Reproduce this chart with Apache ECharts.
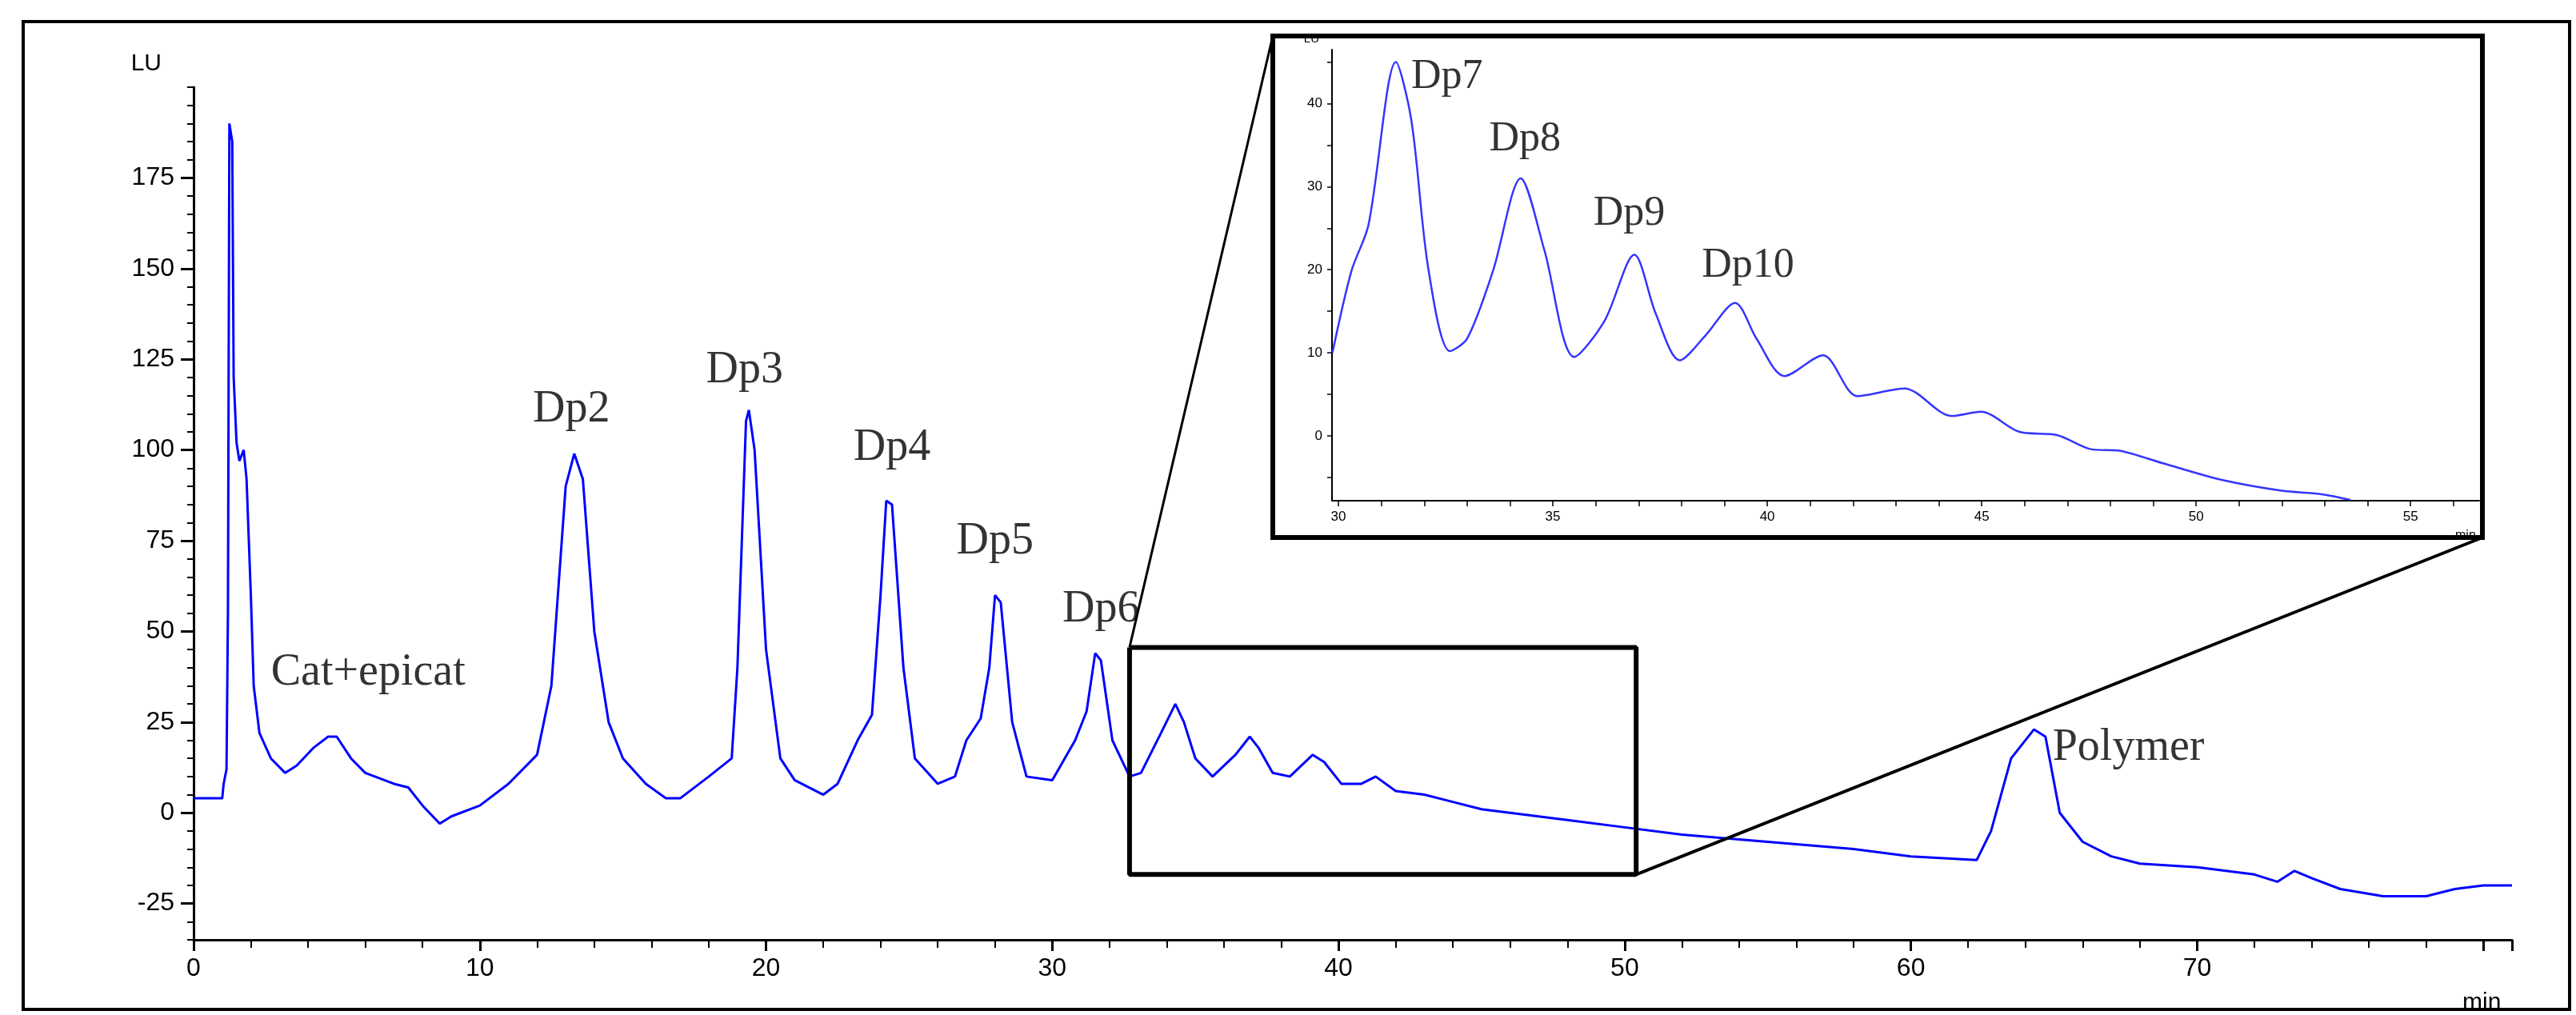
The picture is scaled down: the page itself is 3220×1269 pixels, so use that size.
<!DOCTYPE html>
<html>
<head>
<meta charset="utf-8">
<script src="https://cdn.jsdelivr.net/npm/echarts@6/dist/echarts.min.js"></script>
<style>html,body{margin:0;padding:0;background:#fff}#main{width:3220px;height:1269px}</style>
</head>
<body>
<div id="main"></div>
<script>
// 主色谱图数据 (min, LU)
var mainTime = [0,1.0,1.05,1.15,1.2,1.25,1.35,1.4,1.5,1.6,1.75,1.85,2.0,2.1,2.3,2.7,3.2,3.6,4.2,4.7,5.0,5.5,6.0,7.0,7.5,8.0,8.6,9.0,10,11,12,12.5,13.0,13.3,13.6,14.0,14.5,15,15.8,16.5,17.0,18,18.8,19.0,19.3,19.4,19.6,20,20.5,21,22,22.5,23.2,23.7,24.0,24.2,24.4,24.8,25.2,26,26.6,27.0,27.5,27.8,28.0,28.2,28.6,29.1,30,30.8,31.2,31.5,31.7,32.1,32.7,33.1,33.8,34.3,34.6,35.0,35.6,36.4,36.9,37.2,37.7,38.3,39.1,39.5,40.1,40.8,41.3,42.0,43,44,45,46,47,48,50,52,55,58,60,62.3,62.8,63.5,64.3,64.7,65.2,66,67,68,70,72,72.8,73.4,74,75,76.5,78,79,80,81];
var mainLU = [4,4,8,12,55,190,185,120,102,97,100,92,60,35,22,15,11,13,18,21,21,15,11,8,7,2,-3,-1,2,8,16,35,90,99,92,50,25,15,8,4,4,10,15,40,108,111,100,45,15,9,5,8,20,27,60,86,85,40,15,8,10,20,26,40,60,58,25,10,9,20,28,44,42,20,10,11,22,30,25,15,10,16,21,18,11,10,16,14,8,8,10,6,5,3,1,0,-1,-2,-4,-6,-8,-10,-12,-13,-5,15,23,21,0,-8,-12,-14,-15,-17,-19,-16,-18,-21,-23,-23,-21,-20,-20];

// 放大图数据
var insetTime = [29.86,30.3,30.7,31.34,31.7,32.1,32.6,33.0,33.6,34.25,34.8,35.5,36.2,36.9,37.4,37.96,38.56,39.25,39.75,40.4,41.3,42.1,43.2,44.3,44.98,45.87,46.76,47.55,48.24,49.23,50.6,52,52.9,53.6];
var insetLU = [10,19.8,25.4,45,38,20,10.2,11.7,19.8,31,22.4,9.5,13.8,21.8,14.7,9.1,12.1,16,11.7,7.2,9.7,4.8,5.7,2.4,2.9,0.5,0.1,-1.6,-1.8,-3.3,-5.3,-6.6,-7,-7.7];

// 峰标注
var mainLabels = ['Cat+epicat','Dp2','Dp3','Dp4','Dp5','Dp6','Polymer'];
var mainLabelX = [6.1,13.2,19.25,24.4,28.0,31.7,67.6];
var mainLabelY = [38.5,111,122,100.6,74.8,56,17.8];
var insetLabels = ['Dp7','Dp8','Dp9','Dp10'];
var insetLabelX = [32.53,34.35,36.78,39.55];
var insetLabelY = [43.2,35.7,26.7,20.5];

// 放大框范围
var boxX = [32.7,50.4,50.4,32.7,32.7];
var boxY = [45.6,45.6,-17,-17,45.6];

var mainXTicks = [0,10,20,30,40,50,60,70];
var mainYTicks = [-25,0,25,50,75,100,125,150,175];
var insetXTicks = [30,35,40,45,50,55];
var insetYTicks = [0,10,20,30,40];

function zip(a,b){ var r=[]; for(var i=0;i<a.length;i++) r.push([a[i],b[i]]); return r; }

var tickFont = {fontFamily:'Liberation Sans', color:'#000'};
var labelFont = {fontFamily:'Liberation Serif', color:'#000'};

var myChart = echarts.init(document.getElementById('main'));
var option = {
    animation:false,
    grid:[
        {left:242, top:109, right:80, bottom:86},
        {left:1665, top:62, right:121, bottom:643}
    ],
    xAxis:[
        {gridIndex:0, type:'value', min:0, max:81, interval:10,
         axisLine:{onZero:false, lineStyle:{color:'#000', width:3}},
         axisTick:{length:14, lineStyle:{color:'#000',width:3}},
         axisLabel:Object.assign({customValues:mainXTicks, fontSize:32, margin:20},tickFont),
         splitLine:{show:false},
         minorTick:{show:true, splitNumber:5, length:10, lineStyle:{color:'#000',width:2}},
         name:'min', nameLocation:'end', nameGap:-62,
         nameTextStyle:Object.assign({fontSize:30, padding:[64,0,0,0], verticalAlign:'top'},tickFont)},
        {gridIndex:1, type:'value', min:29.85, max:56.6,
         axisLine:{onZero:false, lineStyle:{color:'#000',width:2}},
         axisTick:{customValues:[30,31,32,33,34,35,36,37,38,39,40,41,42,43,44,45,46,47,48,49,50,51,52,53,54,55,56], length:7, lineStyle:{color:'#000',width:1.5}},
         axisLabel:Object.assign({customValues:insetXTicks, fontSize:17, margin:12},tickFont),
         splitLine:{show:false},
         name:'min', nameLocation:'end', nameGap:-30,
         nameTextStyle:Object.assign({fontSize:16, padding:[36,0,0,0], verticalAlign:'top'},tickFont)}
    ],
    yAxis:[
        {gridIndex:0, type:'value', position:'left', min:-35, max:200, interval:5,
         axisLine:{onZero:false, lineStyle:{color:'#000', width:3}},
         axisTick:{length:8, lineStyle:{color:'#000',width:2}},
         axisLabel:{show:false}, splitLine:{show:false}},
        {gridIndex:0, type:'value', position:'left', offset:0, min:-35, max:200,
         axisLine:{show:false, onZero:false},
         axisTick:{customValues:mainYTicks, length:16, lineStyle:{color:'#000',width:3}},
         axisLabel:Object.assign({customValues:mainYTicks, fontSize:32, margin:24},tickFont),
         splitLine:{show:false},
         name:'LU', nameLocation:'end', nameGap:14,
         nameTextStyle:Object.assign({fontSize:30, align:'right', padding:[0,40,0,0]},tickFont)},
        {gridIndex:1, type:'value', position:'left', min:-7.8, max:46.5,
         axisLine:{onZero:false, lineStyle:{color:'#000',width:2}},
         axisTick:{customValues:[-5,0,5,10,15,20,25,30,35,40,45], length:6, lineStyle:{color:'#000',width:1.5}},
         axisLabel:Object.assign({customValues:insetYTicks, fontSize:17, margin:12},tickFont),
         splitLine:{show:false},
         name:'LU', nameLocation:'end', nameGap:6,
         nameTextStyle:Object.assign({fontSize:15, align:'right', padding:[0,16,0,0]},tickFont)}
    ],
    series:[
        {type:'line', xAxisIndex:0, yAxisIndex:0, data:zip(mainTime,mainLU), showSymbol:false,
         lineStyle:{color:'#0000ff', width:3}, z:3},
        {type:'line', xAxisIndex:0, yAxisIndex:0, data:zip(boxX,boxY), showSymbol:false,
         lineStyle:{color:'#000', width:6}, z:4},
        {type:'line', xAxisIndex:1, yAxisIndex:2, data:zip(insetTime,insetLU), showSymbol:false, smooth:0.3,
         lineStyle:{color:'#3535ff', width:2.5}, z:3},
        {type:'scatter', xAxisIndex:0, yAxisIndex:0, symbolSize:0,
         data:mainLabels.map(function(n,i){return {value:[mainLabelX[i],mainLabelY[i]], name:n};}),
         label:Object.assign({show:true, position:'inside', formatter:'{b}', fontSize:56},labelFont)},
        {type:'scatter', xAxisIndex:1, yAxisIndex:2, symbolSize:0,
         data:insetLabels.map(function(n,i){return {value:[insetLabelX[i],insetLabelY[i]], name:n};}),
         label:Object.assign({show:true, position:'inside', formatter:'{b}', fontSize:52},labelFont)}
    ]
};
myChart.setOption(option);

// 放大框与插图之间的连线
var pTL = myChart.convertToPixel({xAxisIndex:0, yAxisIndex:0}, [boxX[0], boxY[0]]);
var pBR = myChart.convertToPixel({xAxisIndex:0, yAxisIndex:0}, [boxX[1], boxY[2]]);
myChart.setOption({
    graphic:[
        {type:'rect', shape:{x:29, y:27, width:3183, height:1235}, style:{fill:'none', stroke:'#000', lineWidth:4}, z:10},
        {type:'rect', shape:{x:1591, y:45, width:1512, height:627}, style:{fill:'none', stroke:'#000', lineWidth:6}, z:10},
        {type:'line', shape:{x1:pTL[0], y1:pTL[1], x2:1591, y2:45}, style:{stroke:'#000', lineWidth:3}, z:10},
        {type:'line', shape:{x1:pBR[0], y1:pBR[1], x2:3103, y2:672}, style:{stroke:'#000', lineWidth:4}, z:10}
    ]
});
</script>
</body>
</html>
